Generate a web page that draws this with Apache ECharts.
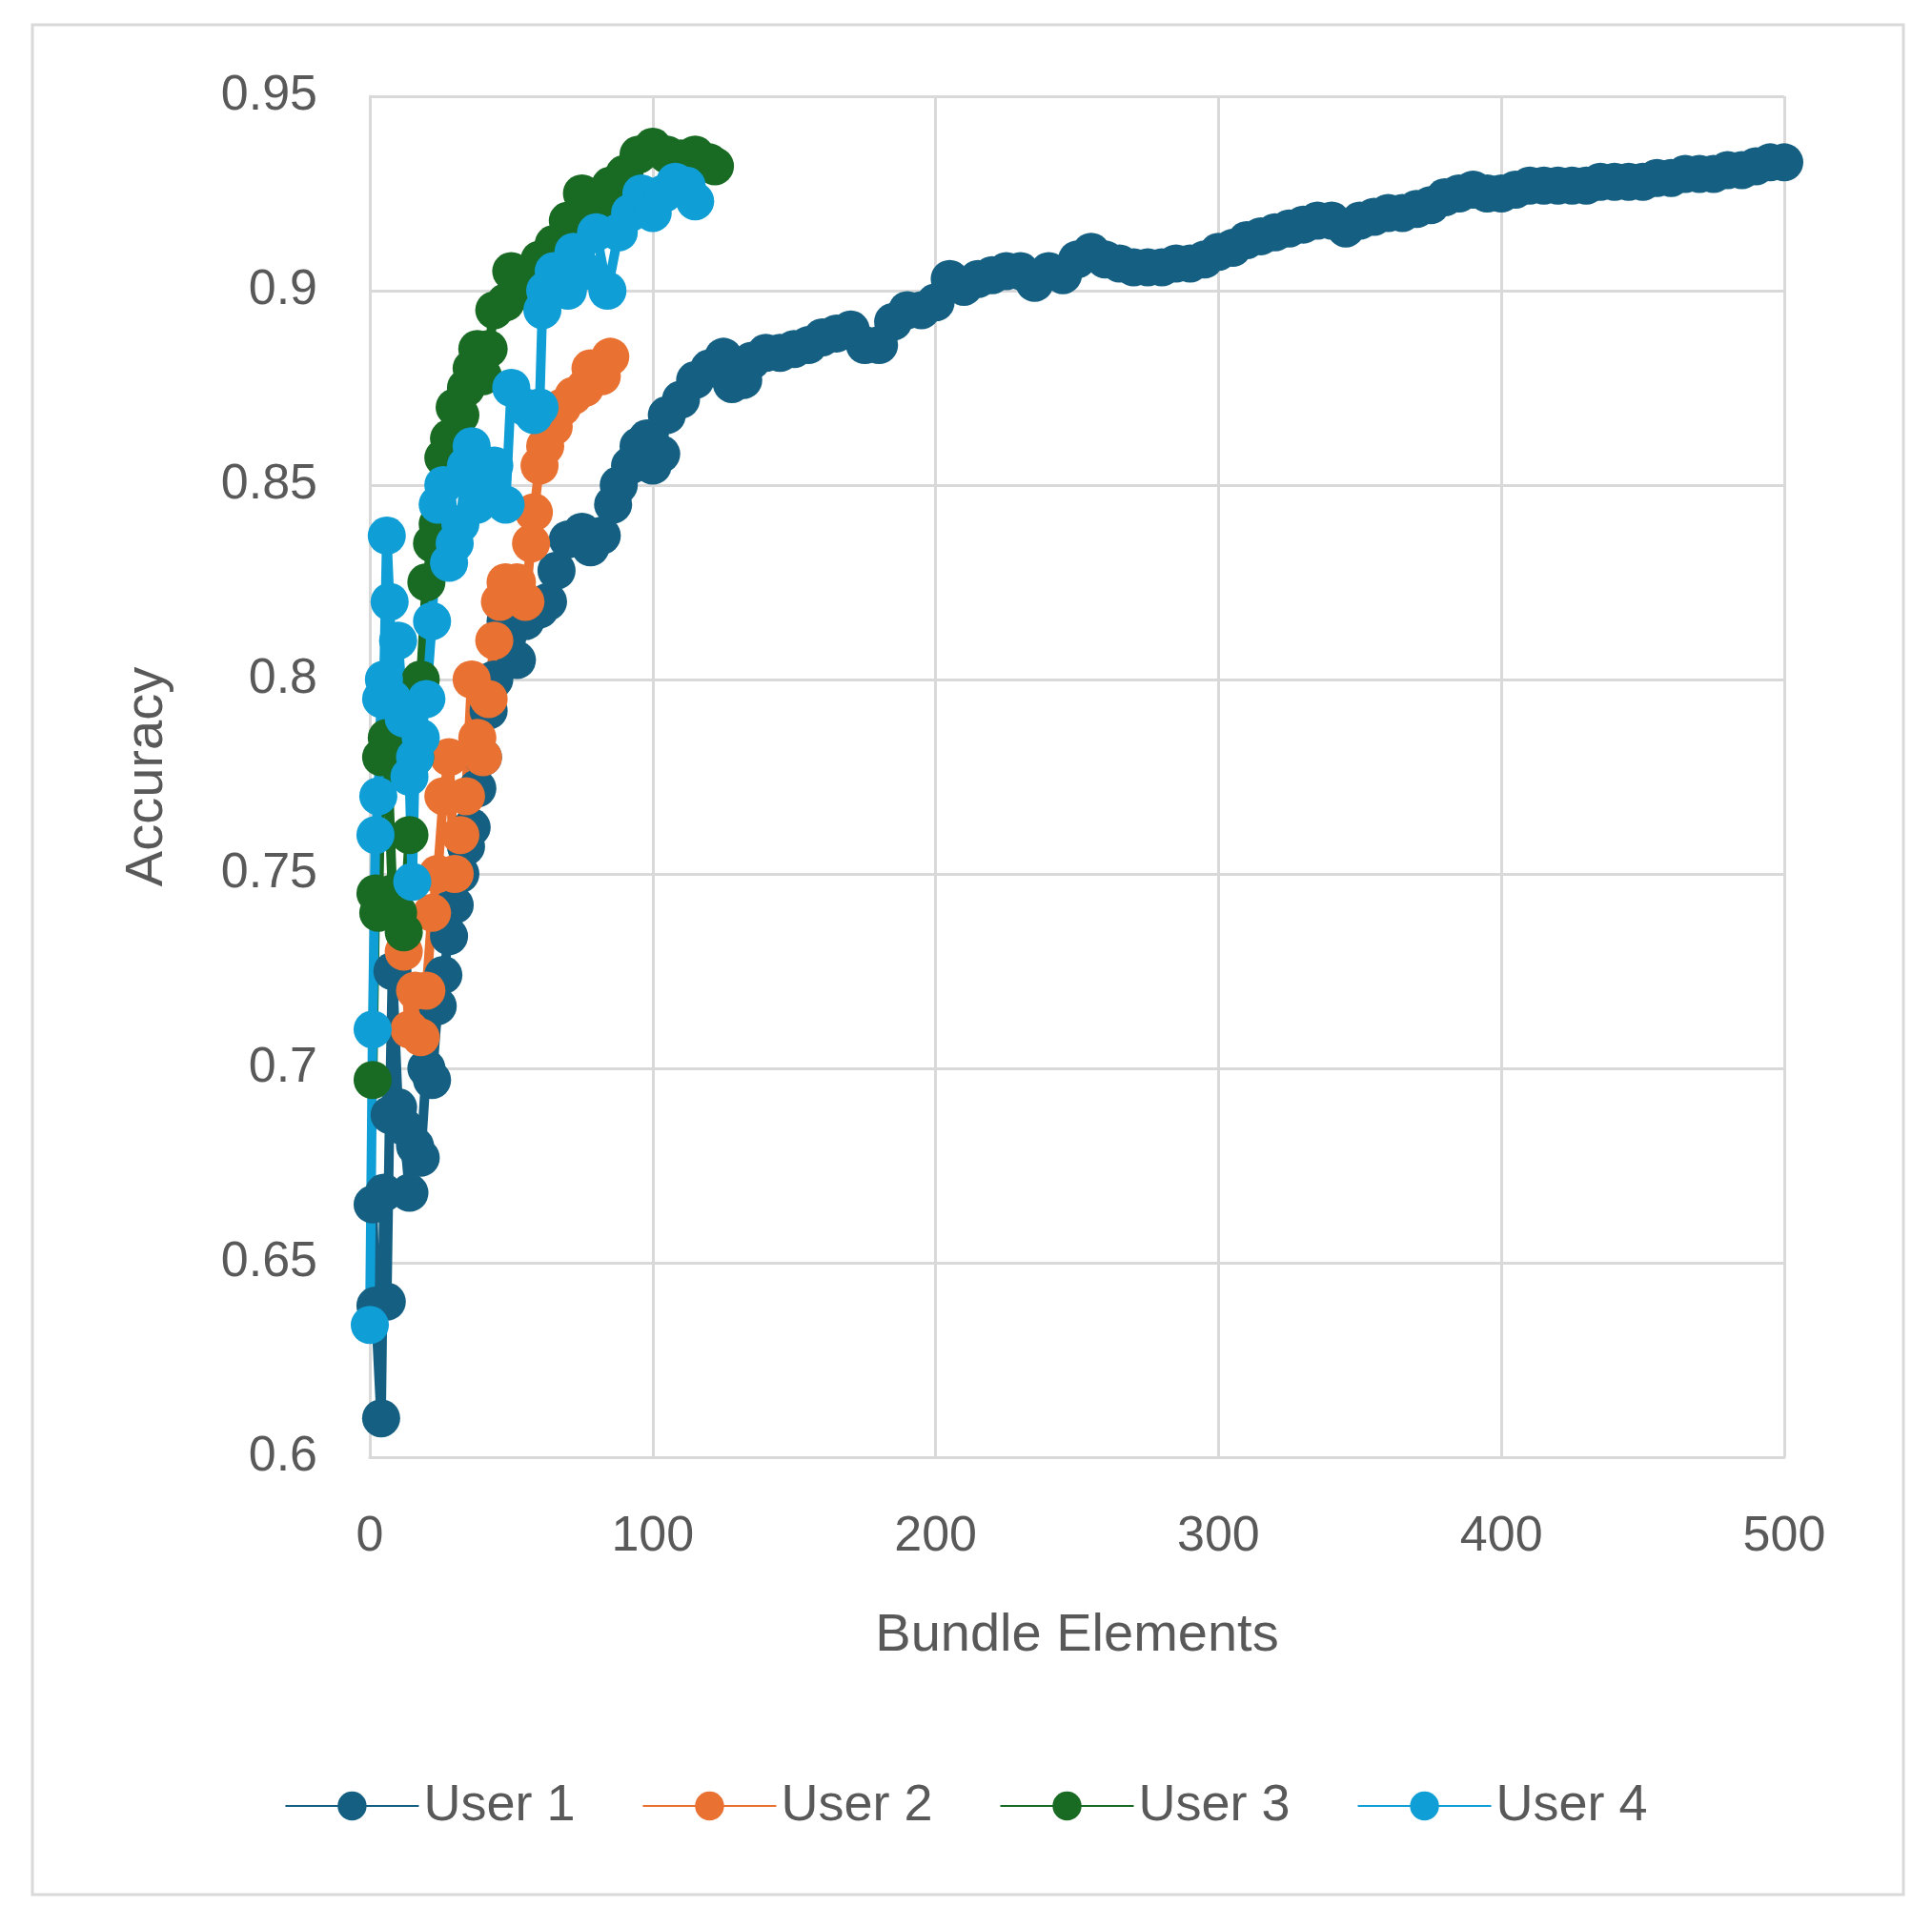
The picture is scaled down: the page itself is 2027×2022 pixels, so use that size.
<!DOCTYPE html>
<html><head><meta charset="utf-8">
<script src="https://cdn.jsdelivr.net/npm/echarts@6/dist/echarts.min.js"></script>
<style>html,body{margin:0;padding:0;background:#fff}#c{width:2027px;height:2022px}</style>
</head><body><div id="c"></div>
<script>
const user1 = [[1,0.665],[2,0.639],[4,0.61],[5,0.668],[6,0.64],[7,0.688],[8,0.725],[10,0.69],[12,0.685],[14,0.668],[16,0.68],[18,0.677],[20,0.70],[22,0.697],[24,0.716],[26,0.724],[28,0.734],[30,0.742],[32,0.75],[34,0.757],[36,0.762],[38,0.772],[40,0.78],[42,0.792],[44,0.80],[46,0.81],[48,0.815],[52,0.805],[55,0.815],[60,0.818],[63,0.82],[66,0.828],[70,0.836],[75,0.838],[78,0.834],[82,0.837],[86,0.845],[88,0.85],[92,0.855],[95,0.86],[98,0.862],[100,0.855],[103,0.858],[105,0.868],[110,0.872],[115,0.877],[120,0.88],[125,0.883],[128,0.876],[132,0.877],[135,0.882],[140,0.884],[145,0.884],[150,0.885],[155,0.886],[160,0.888],[165,0.889],[170,0.89],[175,0.886],[180,0.886],[185,0.892],[190,0.895],[195,0.895],[200,0.897],[205,0.903],[210,0.901],[215,0.903],[220,0.904],[225,0.905],[230,0.905],[235,0.902],[240,0.905],[245,0.904],[250,0.908],[255,0.91],[260,0.908],[265,0.907],[270,0.906],[275,0.906],[280,0.906],[285,0.907],[290,0.907],[295,0.908],[300,0.91],[305,0.911],[310,0.913],[315,0.914],[320,0.915],[325,0.916],[330,0.917],[335,0.918],[340,0.918],[345,0.916],[350,0.918],[355,0.919],[360,0.92],[365,0.92],[370,0.921],[375,0.922],[380,0.924],[385,0.925],[390,0.926],[395,0.925],[400,0.925],[405,0.926],[410,0.927],[415,0.927],[420,0.927],[425,0.927],[430,0.927],[435,0.928],[440,0.928],[445,0.928],[450,0.928],[455,0.929],[460,0.929],[465,0.93],[470,0.93],[475,0.93],[480,0.931],[485,0.931],[490,0.932],[495,0.933],[500,0.933]];
const user2 = [[12,0.73],[14,0.71],[16,0.72],[18,0.708],[20,0.72],[22,0.74],[24,0.75],[26,0.77],[28,0.78],[30,0.75],[32,0.76],[34,0.77],[36,0.80],[38,0.785],[40,0.78],[42,0.795],[44,0.81],[46,0.82],[48,0.825],[52,0.825],[55,0.82],[57,0.835],[58,0.843],[60,0.855],[62,0.86],[65,0.865],[68,0.87],[72,0.873],[76,0.875],[78,0.88],[82,0.878],[85,0.883]];
const user3 = [[1,0.697],[2,0.745],[3,0.74],[4,0.78],[6,0.785],[8,0.745],[10,0.74],[12,0.735],[14,0.76],[16,0.78],[18,0.80],[20,0.825],[22,0.835],[24,0.84],[26,0.857],[28,0.862],[30,0.87],[32,0.868],[34,0.875],[36,0.88],[38,0.885],[40,0.878],[42,0.885],[44,0.895],[48,0.897],[50,0.905],[55,0.9],[60,0.908],[65,0.912],[70,0.918],[75,0.925],[80,0.922],[85,0.927],[90,0.93],[95,0.935],[100,0.937],[105,0.935],[110,0.934],[115,0.935],[120,0.933],[122,0.932]];
const user4 = [[0,0.634],[1,0.71],[2,0.76],[3,0.77],[4,0.795],[5,0.80],[6,0.837],[7,0.82],[8,0.795],[10,0.81],[12,0.79],[14,0.775],[15,0.748],[16,0.78],[18,0.785],[20,0.795],[22,0.815],[24,0.845],[26,0.85],[28,0.83],[30,0.835],[32,0.84],[34,0.855],[36,0.86],[38,0.845],[40,0.85],[44,0.855],[48,0.845],[50,0.875],[55,0.87],[58,0.868],[60,0.87],[61,0.895],[62,0.9],[65,0.905],[70,0.9],[72,0.91],[76,0.905],[80,0.915],[84,0.9],[88,0.915],[92,0.92],[96,0.925],[100,0.92],[104,0.925],[108,0.928],[112,0.927],[115,0.923]];
const names = ['User 1','User 2','User 3','User 4'];
const colors = ['#156082','#E97132','#196B24','#0F9ED5'];
const all = [user1,user2,user3,user4];
const chart = echarts.init(document.getElementById('c'));
const font = 'Liberation Sans, Arial, sans-serif';
chart.setOption({
  animation:false,
  graphic:[{type:'rect',shape:{x:34,y:26,width:1963,height:1962},style:{fill:'none',stroke:'#d9d9d9',lineWidth:3}}],
  grid:{left:388,right:155,top:101,bottom:493},
  legend:{bottom:95,left:'center',itemWidth:140,itemHeight:38,itemGap:70,
    textStyle:{fontSize:54,color:'#595959',fontFamily:font},data:names},
  xAxis:{type:'value',min:0,max:500,interval:100,name:'Bundle Elements',nameLocation:'middle',nameGap:160,
    nameTextStyle:{fontSize:56,color:'#595959',fontFamily:font},
    axisLine:{lineStyle:{color:'#d9d9d9',width:3}},axisTick:{show:false},
    axisLabel:{fontSize:52,color:'#595959',margin:58,fontFamily:font},
    splitLine:{lineStyle:{color:'#d9d9d9',width:3}}},
  yAxis:{type:'value',min:0.6,max:0.95,interval:0.05,name:'Accuracy',nameLocation:'middle',nameGap:205,
    nameTextStyle:{fontSize:56,color:'#595959',fontFamily:font},
    axisLine:{show:true,lineStyle:{color:'#d9d9d9',width:3}},axisTick:{show:false},
    axisLabel:{fontSize:52,color:'#595959',margin:55,fontFamily:font,formatter:v=>String(+v.toFixed(2))},
    splitLine:{lineStyle:{color:'#d9d9d9',width:3}}},
  series: all.map((d,i)=>({name:names[i],type:'line',data:d,symbol:'circle',symbolSize:40,
    lineStyle:{width:10,color:colors[i]},itemStyle:{color:colors[i]}}))
});
</script></body></html>
